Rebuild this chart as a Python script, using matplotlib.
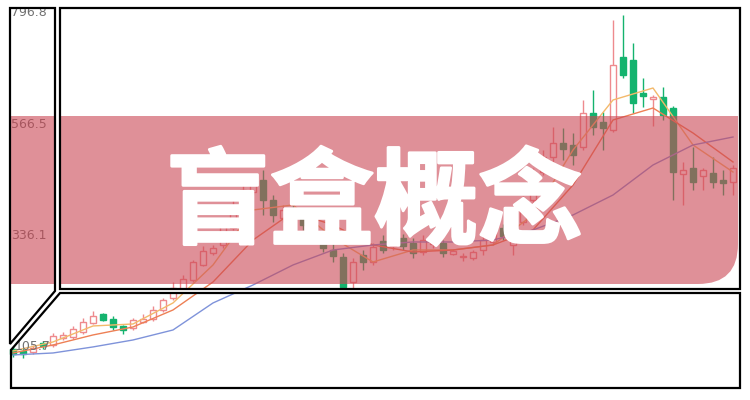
import matplotlib
matplotlib.use('Agg')
import matplotlib.pyplot as plt
import matplotlib.patheffects as pe
from matplotlib.path import Path
from matplotlib.patches import PathPatch, Polygon

# Dados (abertura, fechamento, maxima, minima)
abertura = [101.6, 97.5, 95.4, 114.0, 109.9, 124.4, 126.4, 136.8, 155.4, 174.0,
            163.7, 149.2, 145.1, 157.5, 163.7, 182.3, 207.1, 223.7, 244.4, 275.4,
            300.2, 316.8, 352.0, 393.3, 426.5, 451.3, 409.9, 372.7, 393.3, 378.9,
            364.4, 337.5, 306.4, 292.0, 240.2, 296.1, 281.6, 325.1, 314.7, 331.3,
            320.9, 302.3, 318.9, 320.9, 298.2, 292.0, 289.9, 306.4, 323.0, 352.0,
            316.8, 364.4, 409.9, 467.8, 498.9, 527.8, 523.7, 519.6, 589.9, 571.3,
            554.7, 705.8, 699.6, 631.3, 618.9, 623.0, 600.2, 463.7, 476.1, 459.6,
            465.8, 451.3, 447.1]
fechamento = [91.3, 91.3, 103.7, 107.8, 128.5, 130.6, 143.0, 157.5, 169.9, 161.6,
              147.1, 140.9, 161.6, 163.7, 182.3, 203.0, 227.8, 246.4, 281.6, 304.4,
              310.6, 358.2, 399.6, 430.6, 447.1, 409.9, 378.9, 389.2, 380.9, 358.2,
              337.5, 310.6, 294.0, 229.9, 281.6, 281.6, 312.7, 306.4, 335.4, 314.7,
              300.2, 327.1, 335.4, 300.2, 304.4, 292.0, 302.3, 327.1, 347.8, 335.4,
              364.4, 409.9, 467.8, 498.9, 527.8, 515.4, 503.0, 589.9, 560.9, 558.9,
              689.2, 668.5, 610.6, 625.1, 623.0, 585.8, 467.8, 472.0, 447.1, 472.0,
              447.1, 445.1, 476.1]
maxima = [107.8, 103.7, 109.9, 118.2, 134.7, 136.8, 149.2, 165.8, 180.2, 176.1,
          169.9, 151.3, 165.8, 174.0, 190.6, 207.1, 240.2, 254.7, 285.8, 314.7,
          316.8, 368.5, 409.9, 440.9, 461.6, 472.0, 420.2, 399.6, 401.6, 385.1,
          372.7, 347.8, 320.9, 300.2, 289.9, 306.4, 320.9, 337.5, 343.7, 339.6,
          331.3, 337.5, 343.7, 327.1, 308.5, 300.2, 306.4, 335.4, 356.1, 360.2,
          372.7, 418.2, 476.1, 513.3, 560.9, 558.9, 548.5, 616.8, 637.5, 592.0,
          782.3, 792.7, 734.7, 662.3, 627.1, 643.7, 604.4, 488.5, 519.6, 476.1,
          498.9, 472.0, 482.3]
minima = [85.1, 83.0, 91.3, 101.6, 105.8, 120.2, 122.3, 132.7, 153.3, 159.6,
          140.9, 132.7, 140.9, 155.4, 159.6, 178.2, 203.0, 219.6, 240.2, 273.3,
          296.1, 310.6, 347.8, 389.2, 420.2, 378.9, 364.4, 364.4, 368.5, 347.8,
          327.1, 302.3, 281.6, 225.8, 227.8, 265.1, 275.4, 300.2, 306.4, 306.4,
          289.9, 296.1, 310.6, 292.0, 296.1, 283.7, 285.8, 296.1, 316.8, 327.1,
          296.1, 358.2, 403.7, 461.6, 482.3, 492.7, 482.3, 513.3, 544.4, 513.3,
          550.6, 662.3, 589.9, 602.3, 563.0, 575.4, 409.9, 399.6, 430.6, 430.6,
          434.7, 420.2, 420.2]

# Medias moveis lidas a cada 4 candles
ma_idx = list(range(0, 73, 4))
ma5 = [97.5, 116.1, 149.2, 153.3, 196.8, 275.4, 389.2, 399.6, 331.3, 281.6,
       306.4, 306.4, 316.8, 378.9, 513.3, 616.8, 641.6, 523.7, 467.8]
ma10 = [93.3, 109.9, 130.6, 147.1, 182.3, 240.2, 327.1, 385.1, 358.2, 316.8,
        302.3, 306.4, 316.8, 347.8, 440.9, 575.4, 600.2, 548.5, 488.5]
ma20 = [89.2, 93.3, 105.8, 120.2, 140.9, 196.8, 234.0, 275.4, 306.4, 316.8,
        323.0, 323.0, 327.1, 347.8, 378.9, 420.2, 482.3, 523.7, 540.2]

rotulos_y = [796.8, 566.5, 336.1, 105.7]
titulo = '盲盒概念'

cor_alta = '#ee8a8e'
cor_baixa = '#14b36e'

fig = plt.figure(figsize=(7.5, 4), dpi=100)

# Grafico de candles
ax = fig.add_axes([0, 0, 1, 1])
ax.set_xlim(-1.3, 73.7)
ax.set_ylim(-4.0, 823.7)
ax.axis('off')

for i in range(len(abertura)):
    o, c, h, l = abertura[i], fechamento[i], maxima[i], minima[i]
    sobe = c >= o
    cor = cor_alta if sobe else cor_baixa
    topo, base = max(o, c), min(o, c)
    ax.vlines(i, topo, h, color=cor, lw=1)
    ax.vlines(i, l, base, color=cor, lw=1)
    ax.bar(i, max(topo - base, 2), bottom=base, width=0.6,
           facecolor='none' if sobe else cor, edgecolor=cor, lw=1)

ax.plot(ma_idx, ma5, color='#f3b96b', lw=1)
ax.plot(ma_idx, ma10, color='#ee8055', lw=1)
ax.plot(ma_idx, ma20, color='#7f93da', lw=1)

for v in rotulos_y:
    ax.text(-0.2 if v > 200 else 0.2, v, f'{v}', fontsize=9, color='#707070',
            ha='left', va='center')

# Moldura decorativa em coordenadas de pixel
deco = fig.add_axes([0, 0, 1, 1], facecolor='none')
deco.set_xlim(0, 750)
deco.set_ylim(400, 0)
deco.axis('off')

faixa = '#cb4653'
deco.add_patch(Polygon([(10, 116), (55, 116), (55, 284), (10, 284)],
                       closed=True, facecolor=faixa, alpha=0.6, lw=0))
r = 40
caminho = Path([(60, 116), (738, 116), (738, 284 - r), (738, 284), (738 - r, 284),
                (60, 284), (60, 116)],
               [Path.MOVETO, Path.LINETO, Path.LINETO, Path.CURVE3, Path.CURVE3,
                Path.LINETO, Path.CLOSEPOLY])
deco.add_patch(PathPatch(caminho, facecolor=faixa, alpha=0.6, lw=0))

# espaco branco entre as caixas
deco.add_patch(Polygon([(55, 8), (60, 8), (60, 289), (740, 289), (740, 293),
                        (60, 293), (11, 350), (10, 344), (55, 291)],
                       closed=True, facecolor='white', lw=0))

caixas = [
    [(10, 8), (55, 8), (55, 291), (10, 344)],
    [(60, 8), (740, 8), (740, 289), (60, 289)],
    [(60, 293), (740, 293), (740, 388), (11, 388), (11, 350)],
]
for cx in caixas:
    deco.add_patch(Polygon(cx, closed=True, fill=False, edgecolor='black',
                           lw=1.6, joinstyle='miter'))

deco.text(374, 205, titulo, fontsize=75, color='white', fontweight='heavy',
          family=['Noto Sans CJK SC', 'DejaVu Sans'], ha='center', va='center',
          path_effects=[pe.withStroke(linewidth=2, foreground='white')])

fig.savefig('out.png', dpi=100)
